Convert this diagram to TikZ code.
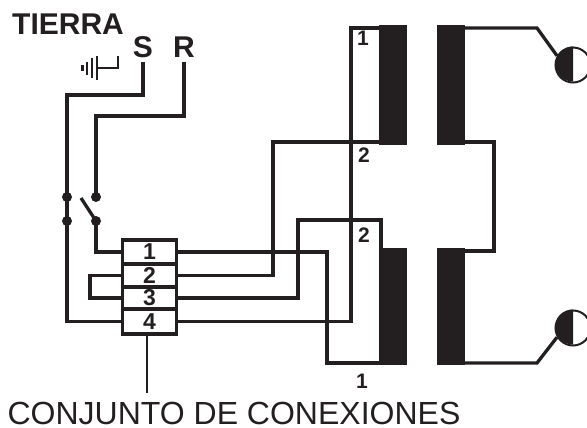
\documentclass[tikz,border=0pt]{standalone}
\usepackage{fontspec}
\setmainfont{Liberation Sans}
\usetikzlibrary{positioning}
\definecolor{ink}{HTML}{231F20}
\tikzset{
    wire/.style={draw=ink, line width=3.3pt},
    thinwire/.style={draw=ink, line width=1.2pt},
    coil/.style={fill=ink, minimum width=28pt, minimum height=120pt, inner sep=0pt, outer sep=0pt},
    row/.style={draw=ink, line width=3.3pt, minimum width=54pt, inner sep=0pt, outer sep=0pt,
        text=ink, font=\fontsize{23}{23}\selectfont\bfseries},
    pin/.style={circle, fill=ink, minimum size=10pt, inner sep=0pt},
    lamp/.style={circle, draw=ink, line width=2pt, minimum size=35pt, inner sep=0pt},
    phase/.style={text=ink, inner sep=4pt, font=\fontsize{30}{30}\selectfont\bfseries},
    tag/.style={text=ink, inner sep=0pt, font=\fontsize{21}{21}\selectfont\bfseries},
}
\begin{document}
\begin{tikzpicture}[x=1pt, y=-1pt]
    \useasboundingbox (0,0) rectangle (587,428);

    % coils
    \node[coil] (c1) at (393,85) {};
    \node[coil, right=30pt of c1] (c2) {};
    \node[coil, minimum height=117pt] (c3) at (393,306.5) {};
    \node[coil, minimum height=117pt, right=30pt of c3] (c4) {};

    % connector block
    \node[row, minimum height=24pt] (b1) at (149.5,252) {1};
    \node[row, minimum height=23pt, below=0pt of b1] (b2) {2};
    \node[row, minimum height=22pt, below=0pt of b2] (b3) {3};
    \node[row, minimum height=25pt, below=0pt of b3] (b4) {4};

    % line and switch
    \node[phase] (s) at (143,47) {S};
    \node[phase] (r) at (184,47) {R};
    \node[pin] (p1) at (67,197) {};
    \node[pin] (p2) at (67,221) {};
    \node[pin] (p3) at (96,197) {};
    \node[pin] (p4) at (96,221) {};
    \coordinate (blade) at (81,198);

    % lamps
    \node[lamp] (l1) at (573,65) {};
    \node[lamp] (l2) at (573,328) {};
    \fill[ink] (l1.north) arc[start angle=90, end angle=270, radius=17.5pt];
    \fill[ink] (l2.north) arc[start angle=90, end angle=270, radius=17.5pt];

    % labels
    \node[text=ink, inner sep=0pt, anchor=west, font=\fontsize{30}{30}\selectfont\bfseries] (tierra) at (12,24) {TIERRA};
    \node[tag] (t1) at (363,38) {1};
    \node[tag] (t2) at (364,155) {2};
    \node[tag] (t3) at (364,235) {2};
    \node[tag] (t4) at (362,381) {1};
    \node[text=ink, inner sep=0pt, font=\fontsize{32}{32}\selectfont] (conj) at (234,413.5) {CONJUNTO DE CONEXIONES};

    % earth symbol
    \coordinate (e1) at (97,68);
    \draw[thinwire] (118,56) |- (e1);
    \draw[thinwire] (97,56) -- (97,80);
    \draw[thinwire] (92,58) -- (92,78);
    \draw[thinwire] (87,62) -- (87,75);
    \draw[ink, line width=2.4pt] (82.5,65) -- (82.5,71);

    \draw[wire] (s.south) -- (s.south |- 0,95) -| (p1.center);
    \draw[wire] (r.south) -- (r.south |- 0,116) -| (p3.center);
    \draw[wire] (p1.center) -- (p2.center);
    \draw[wire] (blade) -- (p4.center);
    \draw[wire] (p4.center) |- (b1.west);
    \draw[wire] (p2.center) |- (b4.west);
    \draw[wire] (b2.west) -| (90,298) |- (b3.west);

    % to the coils
    \draw[wire] (b1.east) -| (327,363) -- (c3.west |- 0,363);
    \draw[wire] (b2.east) -| (273,142) -- (c1.west |- 0,142);
    \draw[wire] (b3.east) -| (298,220) -| (381,248);
    \draw[wire] (b4.east) -| (351,28) -- (c1.west |- 0,28);

    % secondary
    \draw[wire] (c2.east |- 0,28) -- (537,28) -- (l1.150);
    \draw[wire] (c2.east |- 0,142) -| (494,251) -- (c4.east |- 0,251);
    \draw[wire] (c4.east |- 0,363) -- (537,363) -- (l2.210);

    \coordinate (stem) at (147,393);
    \draw[thinwire] (b4.south -| stem) -- (stem);
\end{tikzpicture}
\end{document}
